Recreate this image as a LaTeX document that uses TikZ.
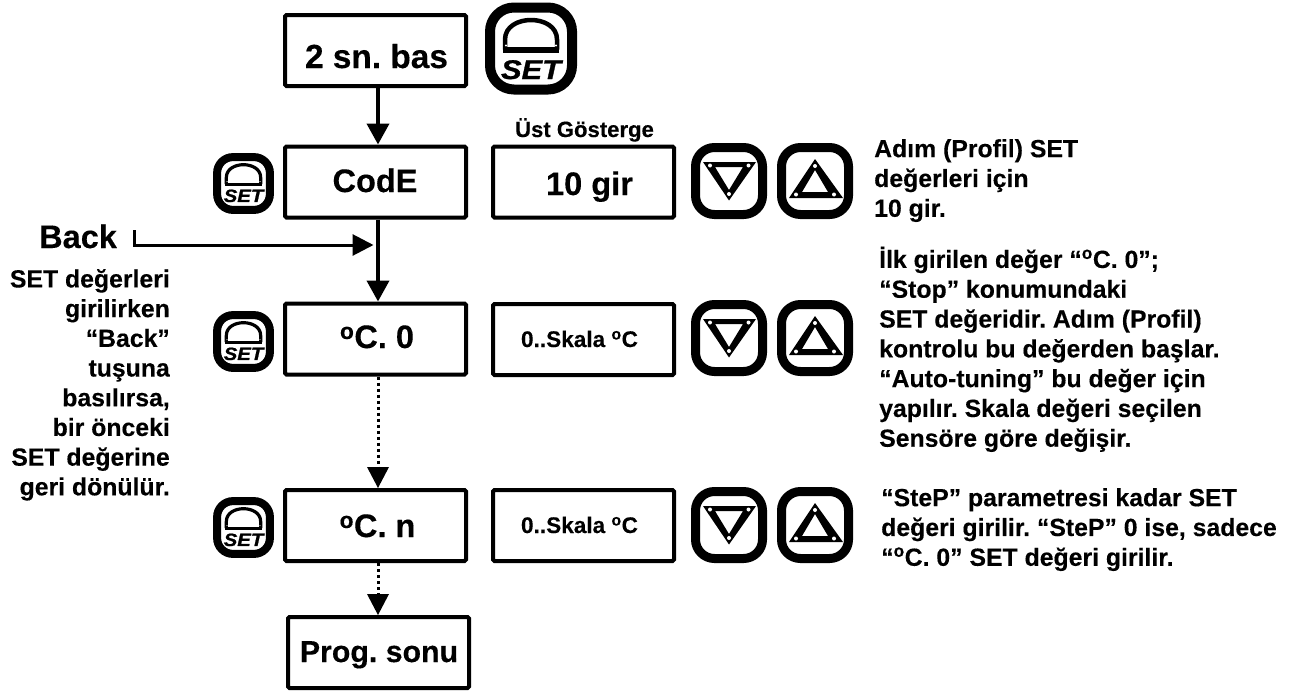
\documentclass[tikz,border=0pt]{standalone}
\usepackage{fontspec}
\setmainfont{Liberation Sans}[BoldFeatures={FakeBold=0.25}]
\usetikzlibrary{arrows.meta,calc}
\newcommand{\dg}{\textsuperscript{o}}
\newcommand{\fs}[2]{\fontsize{#1}{#2}\selectfont\bfseries\frenchspacing}
\tikzset{
  px/.style={x=1pt,y=-1pt},
  disp/.style={draw=black,line width=4pt,rounded corners=1.5pt,fill=white,inner sep=0pt,minimum width=181pt,minimum height=71pt},
  lbl/.style={inner sep=0pt,anchor=base,text=black},
  flow/.style={line width=4pt,-{Triangle[width=22pt,length=21pt]}},
  dotflow/.style={line width=3pt,dash pattern=on 3pt off 3pt,-{Triangle[width=22pt,length=21pt,sep=0pt,line width=0pt]}},
  backflow/.style={line width=3pt,-{Triangle[width=21pt,length=21pt]}},
  note/.style={inner sep=0pt,align=left,anchor=north west,font=\fs{24.8}{29.8}},
  iconframe/.style={draw=black,line width=9pt,rounded corners=19pt,fill=white,minimum width=67pt,minimum height=67pt,inner sep=0pt},
}
% name, cx, cy, scale, frame width, frame size, dome width, SET baseline (scaled units)
\newcommand{\seticon}[8]{%
  \begin{scope}[shift={(#2,#3)},scale=#4,transform shape]
    \node[draw=black,line width=#5,rounded corners=#4*24pt,fill=white,minimum width=#6,minimum height=#6,inner sep=0pt] (#1) at (0,0) {};
    \draw[line width=#7,line join=round] (-26,1) -- (-26,-9) .. controls (-26,-22) and (-13,-28.5) .. (0,-28.5) .. controls (13,-28.5) and (26,-22) .. (26,-9) -- (26,1);
    \draw[line width=#4*6pt] (-28,1.5) -- (28,1.5);
    \fill[white] (-25,-3) circle (#4*1.2pt) (25,-3) circle (#4*1.2pt);
    \node[inner sep=0pt,anchor=base,xscale=1.14] at (0,#8) {\fontsize{27}{27}\selectfont\bfseries\itshape\addfontfeature{FakeBold=1}SET};
  \end{scope}}
\newcommand{\downicon}[3]{% name, cx, cy
  \begin{scope}[shift={(#2,#3)}]
    \node[iconframe] (#1) at (0,0) {};
    \fill[black,even odd rule] (-26,-19) -- (27,-19) -- (0,19.5) -- cycle (-14,-14) -- (14,-14) -- (0,9) -- cycle;
    \fill[white] (-19,-15.5) circle (2pt) (19.5,-15.5) circle (2pt) (0,13) circle (2pt);
  \end{scope}}
\newcommand{\upicon}[3]{% name, cx, cy
  \begin{scope}[shift={(#2,#3)}]
    \node[iconframe] (#1) at (0,0) {};
    \fill[black,even odd rule] (0,-22) -- (28,17) -- (-26,17) -- cycle (0,-11) -- (13,11) -- (-13,11) -- cycle;
    \fill[white] (0,-15) circle (2pt) (-19,13.5) circle (2pt) (19,13.5) circle (2pt);
  \end{scope}}
\begin{document}
\begin{tikzpicture}[px]
\useasboundingbox (0,0) rectangle (1297,691);
% displays
\node[disp] (start) at (375.5,50.5) {};
\node[disp] (code) at (375.5,182) {};
\node[disp] (c0) at (375.5,339) {};
\node[disp] (cn) at (375.5,525.5) {};
\node[disp] (end) at (378.5,652.5) {};
\node[disp] (val) at (583.5,182) {};
\node[disp] (val0) at (583.5,339.5) {};
\node[disp] (valn) at (583.5,525.5) {};
\node[lbl,font=\fs{33.4}{36}] (startT) at (376.5,68) {2 sn. bas};
\node[lbl,font=\fs{32.5}{36}] (codeT) at (375,192) {CodE};
\node[lbl,font=\fs{32.5}{36}] (c0T) at (377,348) {\dg C. 0};
\node[lbl,font=\fs{32.5}{36}] (cnT) at (377.5,537) {\dg C. n};
\node[lbl,font=\fs{30.3}{36}] (endT) at (379,662) {Prog. sonu};
\node[lbl,font=\fs{32.6}{36}] (valT) at (589.5,195) {10 gir};
\node[lbl,font=\fs{22.6}{24}] (val0T) at (579.5,347) {0..Skala \dg C};
\node[lbl,font=\fs{22.6}{24}] (valnT) at (579.5,533) {0..Skala \dg C};
\node[lbl,font=\fs{22.1}{24}] (ust) at (584.5,137) {Üst Gösterge};
% icons
\seticon{setbig}{531}{48.5}{1}{10pt}{82pt}{4.5pt}{30.5}
\seticon{setcode}{243.5}{183.5}{0.66}{8pt}{80pt}{3.2pt}{28}
\seticon{setzero}{243.5}{341.5}{0.66}{8pt}{80pt}{3.2pt}{28}
\seticon{setn}{243.5}{527.5}{0.66}{8pt}{80pt}{3.2pt}{28}
\downicon{dncode}{729}{181}
\upicon{upcode}{815}{181}
\downicon{dnzero}{729}{338}
\upicon{upzero}{815}{338}
\downicon{dnn}{729}{525}
\upicon{upn}{815}{525}
% connectors
\coordinate (trunk) at (378,0);
\coordinate (backstart) at (134,230);
\coordinate (merge) at (373.5,245);
\draw[flow] (start.south -| trunk) -- (code.north -| trunk);
\draw[flow] (code.south -| trunk) -- (c0.north -| trunk);
\draw[dotflow] (c0.south -| trunk) -- (cn.north -| trunk);
\draw[dotflow] (cn.south -| trunk) -- (end.north -| trunk);
\draw[backflow] (backstart) |- (merge);
% texts
\node[inner sep=0pt,anchor=base west,font=\fs{32.5}{36}] (back) at (39,248) {Back};
\node[inner sep=0pt,align=right,anchor=north east,font=\fs{24.8}{29.7}] (leftnote) at (170,269) {SET değerleri\\girilirken\\“Back”\\tuşuna\\basılırsa,\\bir önceki\\SET değerine\\geri dönülür.};
\node[note] (n1) at (874,139) {Adım (Profil) SET\\değerleri için\\10 gir.};
\node[note] (n2) at (879,246.5) {İlk girilen değer “\dg C. 0”;\\“Stop” konumundaki\\SET değeridir. Adım (Profil)\\kontrolu bu değerden başlar.\\“Auto-tuning” bu değer için\\yapılır. Skala değeri seçilen\\Sensöre göre değişir.};
\node[note] (n3) at (881,488) {“SteP” parametresi kadar SET\\değeri girilir. “SteP” 0 ise, sadece\\“\dg C. 0” SET değeri girilir.};
\end{tikzpicture}
\end{document}
